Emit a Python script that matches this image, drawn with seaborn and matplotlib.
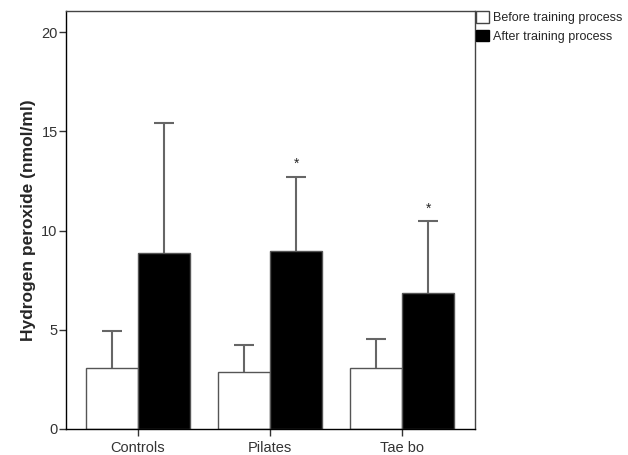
import numpy as np
import pandas as pd
import matplotlib.pyplot as plt
import seaborn as sns
from matplotlib.patches import Patch

groups = ["Controls", "Pilates", "Tae bo"]
phases = ["Before training process", "After training process"]
before_mean = [3.05, 2.87, 3.05]
after_mean = [8.87, 8.97, 6.87]
before_sd = [1.90, 1.36, 1.48]
after_sd = [6.53, 3.74, 3.59]
stars = ["", "*", "*"]

df = pd.DataFrame({
    "Group": groups * 2,
    "Phase": [phases[0]] * 3 + [phases[1]] * 3,
    "Value": before_mean + after_mean,
})

sns.set_style("white")
plt.rcParams["font.family"] = ["Liberation Sans", "DejaVu Sans"]

fig = plt.figure(figsize=(6.28, 4.55), dpi=100)
ax = fig.add_axes([66 / 628, 1 - 429 / 455, (475 - 66) / 628, (429 - 11) / 455])

sns.barplot(data=df, x="Group", y="Value", hue="Phase", hue_order=phases,
            palette=["white", "black"], width=0.79, errorbar=None,
            edgecolor="#555555", linewidth=1, ax=ax, legend=False)

# one-sided error bars (mean + SD): stem and top cap only
cap = 0.075
for i, (bars, sds) in enumerate(zip(ax.containers, [before_sd, after_sd])):
    xs = np.array([b.get_x() + b.get_width() / 2 for b in bars])
    hs = np.array([b.get_height() for b in bars])
    tops = hs + np.array(sds)
    ax.vlines(xs, hs, tops, color="#666666", linewidth=1.5, zorder=3)
    ax.hlines(tops, xs - cap, xs + cap, color="#666666", linewidth=1.5, zorder=3)
    if i == 1:
        for x, t, st in zip(xs, tops, stars):
            if st:
                ax.text(x, t + 0.3, st, ha="center", va="bottom", fontsize=10)

ax.set_ylim(0, 21.06)
ax.set_xlim(-0.545, 2.553)
ax.set_yticks([0, 5, 10, 15, 20])
ax.set_xlabel("")
ax.set_ylabel("Hydrogen peroxide (nmol/ml)", fontsize=12.5, fontweight="bold")
ax.tick_params(axis="both", direction="out", length=5, width=1, color="#333333",
               labelsize=10.5, labelcolor="#333333", left=True, bottom=True)
ax.tick_params(axis="y", pad=1)
for sp in ax.spines.values():
    sp.set_visible(True)
    sp.set_color("#444444")
    sp.set_linewidth(1)
ax.spines["left"].set_color("black")
ax.spines["bottom"].set_color("black")

handles = [Patch(facecolor="white", edgecolor="#444444", label=phases[0]),
           Patch(facecolor="black", edgecolor="black", label=phases[1])]
fig.legend(handles=handles, loc="upper left", bbox_to_anchor=(476 / 628, 1 - 11 / 455),
           frameon=False, fontsize=9, handlelength=1.05, handleheight=1.05,
           handletextpad=0.3, labelspacing=0.45, borderpad=0, borderaxespad=0)

fig.savefig("out.png", dpi=100)
